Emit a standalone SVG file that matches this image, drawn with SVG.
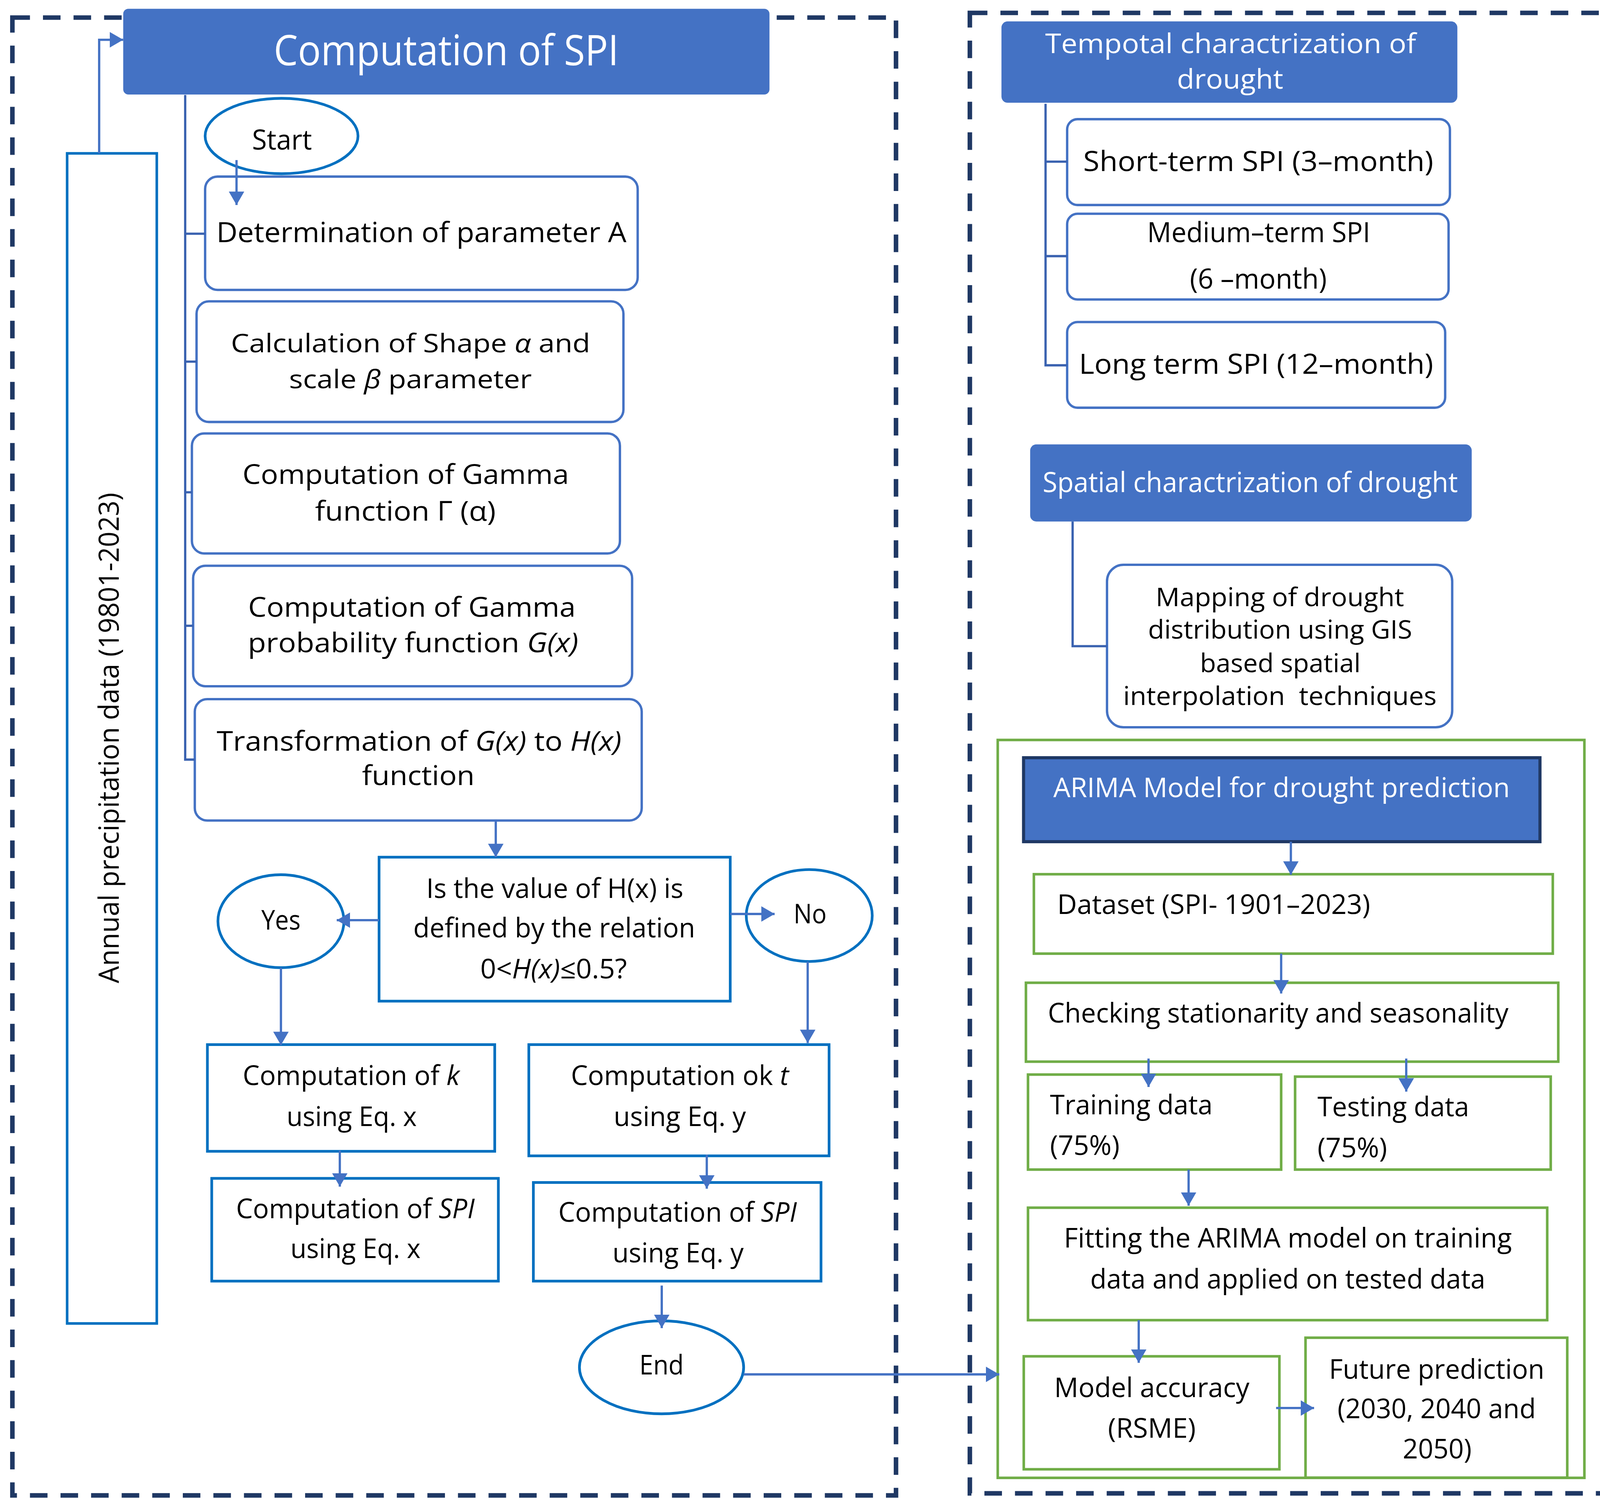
<svg xmlns="http://www.w3.org/2000/svg" width="4146" height="3866" viewBox="0 0 4146 3866">
<defs>
<style>
.t{font-family:"Open Sans","Noto Sans","DejaVu Sans",sans-serif;fill:#000;text-anchor:middle}
.s{text-anchor:start}
.w{fill:#fff}
.f25{font-size:25px}
.f26{font-size:26px}
.f27{font-size:27px}
.rb{fill:#fff;stroke:#4472C4;stroke-width:2.3}
.bb{fill:#fff;stroke:#0070C0;stroke-width:2.6}
.gb{fill:#fff;stroke:#70AD47;stroke-width:2.5}
.hd{fill:#4472C4}
.dash{fill:none;stroke:#1F3864;stroke-width:4.4;stroke-dasharray:17 12.6}
.c{fill:none;stroke:#4472C4;stroke-width:2.2}
.br{fill:none;stroke:#3A62B0;stroke-width:2.2}
</style>
<marker id="ah" markerUnits="userSpaceOnUse" markerWidth="14" markerHeight="15" refX="13" refY="7.5" orient="auto">
<path d="M0,0 L13,7.5 L0,15 Z" fill="#4472C4"/>
</marker>
</defs>
<rect width="4146" height="3866" fill="#fff"/>
<g transform="scale(2.6441)">
<g id="frames">
<rect class="dash" x="12" y="17" width="855.5" height="1431"/>
<rect class="dash" x="939" y="12.5" width="616" height="1433.5"/>
</g>

<g id="annual-data">
<rect x="65" y="148.5" width="86.8" height="1133" fill="#fff" stroke="#0070C0" stroke-width="2.5"/>
<text class="t f27" transform="translate(115,714.5) rotate(-90)" textLength="475" lengthAdjust="spacingAndGlyphs">Annual precipitation data (19801-2023)</text>
</g>

<g id="spi-header">
<rect class="hd" x="119.3" y="8.5" width="625.7" height="83" rx="5"/>
<text class="t w" x="432" y="63" font-size="41" textLength="334" lengthAdjust="spacingAndGlyphs">Computation of SPI</text>
</g>

<g id="start">
<ellipse cx="272.6" cy="131.7" rx="74" ry="36.5" fill="#fff" stroke="#0070C0" stroke-width="2.6"/>
<text class="t f27" x="273" y="145" textLength="58" lengthAdjust="spacingAndGlyphs">Start</text>
</g>

<g id="param-a">
<rect class="rb" x="198.6" y="171" width="418.8" height="109.7" rx="12"/>
<text class="t f27" x="408" y="234.5" textLength="397" lengthAdjust="spacingAndGlyphs">Determination of parameter A</text>
</g>

<g id="shape-scale">
<rect class="rb" x="190.3" y="291.8" width="413.3" height="116.8" rx="12"/>
<text class="t f25" x="397.5" y="341" textLength="348" lengthAdjust="spacingAndGlyphs">Calculation of Shape <tspan font-style="italic">α</tspan> and</text>
<text class="t f25" x="397.4" y="376" textLength="235" lengthAdjust="spacingAndGlyphs">scale <tspan font-style="italic">β</tspan> parameter</text>
</g>

<g id="gamma-function">
<rect class="rb" x="185.8" y="419.7" width="414.4" height="116.2" rx="12"/>
<text class="t f26" x="392.8" y="468.5" textLength="316" lengthAdjust="spacingAndGlyphs">Computation of Gamma</text>
<text class="t f26" x="392.5" y="504" textLength="175" lengthAdjust="spacingAndGlyphs">function Γ (α)</text>
</g>

<g id="gamma-probability">
<rect class="rb" x="187" y="547.8" width="425" height="116.7" rx="12"/>
<text class="t f26" x="398.8" y="597" textLength="317" lengthAdjust="spacingAndGlyphs">Computation of Gamma</text>
<text class="t f26" x="400" y="631.6" textLength="320" lengthAdjust="spacingAndGlyphs">probability function <tspan font-style="italic">G(x)</tspan></text>
</g>

<g id="transformation">
<rect class="rb" x="188.6" y="677" width="432.7" height="117.5" rx="12"/>
<text class="t f26" x="405.8" y="727" textLength="392" lengthAdjust="spacingAndGlyphs">Transformation of <tspan font-style="italic">G(x)</tspan> to <tspan font-style="italic">H(x)</tspan></text>
<text class="t f26" x="405" y="760.3" textLength="109" lengthAdjust="spacingAndGlyphs">function</text>
</g>

<g id="decision">
<rect class="bb" x="367" y="830" width="340" height="139.4"/>
<text class="t f26" x="537.2" y="869.5" textLength="249" lengthAdjust="spacingAndGlyphs">Is the value of H(x) is</text>
<text class="t f26" x="536.6" y="907.5" textLength="273" lengthAdjust="spacingAndGlyphs">defined by the relation</text>
<text class="t f26" x="536" y="947.5" textLength="142" lengthAdjust="spacingAndGlyphs">0&lt;<tspan font-style="italic">H(x)</tspan>≤0.5?</text>
</g>

<g id="yes">
<ellipse cx="272" cy="892" rx="61" ry="45" fill="#fff" stroke="#0070C0" stroke-width="2.6"/>
<text class="t f26" x="272" y="900" textLength="38" lengthAdjust="spacingAndGlyphs">Yes</text>
</g>

<g id="no">
<ellipse cx="783.5" cy="886.5" rx="61" ry="44.5" fill="#fff" stroke="#0070C0" stroke-width="2.6"/>
<text class="t f26" x="784.3" y="894" textLength="32" lengthAdjust="spacingAndGlyphs">No</text>
</g>

<g id="compute-k">
<rect class="bb" x="200.8" y="1011.5" width="278.2" height="103.3"/>
<text class="t f26" x="340" y="1050.7" textLength="210" lengthAdjust="spacingAndGlyphs">Computation of <tspan font-style="italic">k</tspan></text>
<text class="t f26" x="340.5" y="1090.3" textLength="126" lengthAdjust="spacingAndGlyphs">using Eq. x</text>
</g>

<g id="compute-t">
<rect class="bb" x="512" y="1011.5" width="290.7" height="107.7"/>
<text class="t f26" x="658.2" y="1050.6" textLength="211" lengthAdjust="spacingAndGlyphs">Computation ok <tspan font-style="italic">t</tspan></text>
<text class="t f26" x="658.2" y="1090.3" textLength="128" lengthAdjust="spacingAndGlyphs">using Eq. y</text>
</g>

<g id="spi-x">
<rect class="bb" x="205" y="1141" width="277.5" height="99.5"/>
<text class="t f26" x="344" y="1179.7" textLength="231" lengthAdjust="spacingAndGlyphs">Computation of <tspan font-style="italic">SPI</tspan></text>
<text class="t f26" x="344.2" y="1218" textLength="126" lengthAdjust="spacingAndGlyphs">using Eq. x</text>
</g>

<g id="spi-y">
<rect class="bb" x="516.4" y="1145" width="278.5" height="95.5"/>
<text class="t f26" x="656" y="1183" textLength="231" lengthAdjust="spacingAndGlyphs">Computation of <tspan font-style="italic">SPI</tspan></text>
<text class="t f26" x="656.5" y="1222.3" textLength="127" lengthAdjust="spacingAndGlyphs">using Eq. y</text>
</g>

<g id="end">
<ellipse cx="640.5" cy="1324" rx="79.5" ry="45" fill="#fff" stroke="#0070C0" stroke-width="2.6"/>
<text class="t f26" x="640.5" y="1331" textLength="43" lengthAdjust="spacingAndGlyphs">End</text>
</g>

<g id="temporal-header">
<rect class="hd" x="969.6" y="20.7" width="441.4" height="78.8" rx="6"/>
<text class="t w f26" x="1191.5" y="51.5" textLength="359" lengthAdjust="spacingAndGlyphs">Tempotal charactrization of</text>
<text class="t w f26" x="1191" y="86" textLength="103" lengthAdjust="spacingAndGlyphs">drought</text>
</g>

<g id="short-term">
<rect class="rb" x="1033.2" y="115.4" width="370.6" height="83.1" rx="10"/>
<text class="t f27" x="1218.3" y="165.5" textLength="339" lengthAdjust="spacingAndGlyphs">Short-term SPI (3–month)</text>
</g>

<g id="medium-term">
<rect class="rb" x="1033.2" y="207" width="369.3" height="83" rx="10"/>
<text class="t f27" x="1218.7" y="234.5" textLength="216" lengthAdjust="spacingAndGlyphs">Medium–term SPI</text>
<text class="t f27" x="1218.3" y="279.6" textLength="132.6" lengthAdjust="spacingAndGlyphs">(6 –month)</text>
</g>

<g id="long-term">
<rect class="rb" x="1033.2" y="311.8" width="366" height="83" rx="10"/>
<text class="t f27" x="1216.2" y="362" textLength="343" lengthAdjust="spacingAndGlyphs">Long term SPI (12–month)</text>
</g>

<g id="spatial-header">
<rect class="hd" x="997.4" y="430.3" width="427.5" height="74.7" rx="6"/>
<text class="t w f27" x="1210.5" y="476.6" textLength="402" lengthAdjust="spacingAndGlyphs">Spatial charactrization of drought</text>
</g>

<g id="mapping">
<rect class="rb" x="1071.8" y="546.9" width="334.2" height="157.3" rx="16"/>
<text class="t f25" x="1239.2" y="587" textLength="240.5" lengthAdjust="spacingAndGlyphs">Mapping of drought</text>
<text class="t f25" x="1239.4" y="618.5" textLength="255.7" lengthAdjust="spacingAndGlyphs">distribution using GIS</text>
<text class="t f25" x="1239.6" y="651" textLength="155.5" lengthAdjust="spacingAndGlyphs">based spatial</text>
<text class="t f25" x="1239.2" y="682.5" textLength="303.5" lengthAdjust="spacingAndGlyphs" xml:space="preserve" style="white-space:pre">interpolation  techniques</text>
</g>

<g id="arima-panel">
<rect class="gb" x="966" y="716.5" width="568" height="714.5"/>
</g>

<g id="arima-header">
<rect x="991" y="733.7" width="500" height="81.3" fill="#4472C4" stroke="#1F3864" stroke-width="3"/>
<text class="t w f26" x="1240.8" y="772" textLength="442" lengthAdjust="spacingAndGlyphs">ARIMA Model for drought prediction</text>
</g>

<g id="dataset">
<rect class="gb" x="1001" y="846.5" width="502.4" height="76.9"/>
<text class="t s f26" x="1023.6" y="885" textLength="303" lengthAdjust="spacingAndGlyphs">Dataset (SPI- 1901–2023)</text>
</g>

<g id="checking">
<rect class="gb" x="993.3" y="951.6" width="515.4" height="76.4"/>
<text class="t s f26" x="1014.5" y="990" textLength="446" lengthAdjust="spacingAndGlyphs">Checking stationarity and seasonality</text>
</g>

<g id="training">
<rect class="gb" x="995.3" y="1040.5" width="245.1" height="92"/>
<text class="t s f26" x="1016.6" y="1079" textLength="157.4" lengthAdjust="spacingAndGlyphs">Training data</text>
<text class="t s f26" x="1016.6" y="1118.5" textLength="67.4" lengthAdjust="spacingAndGlyphs">(75%)</text>
</g>

<g id="testing">
<rect class="gb" x="1253.9" y="1042.5" width="247.5" height="90"/>
<text class="t s f26" x="1275.6" y="1081" textLength="146.8" lengthAdjust="spacingAndGlyphs">Testing data</text>
<text class="t s f26" x="1275.6" y="1120.5" textLength="67.4" lengthAdjust="spacingAndGlyphs">(75%)</text>
</g>

<g id="fitting">
<rect class="gb" x="995.3" y="1169.4" width="502.7" height="108.9"/>
<text class="t f26" x="1246.9" y="1208" textLength="433.7" lengthAdjust="spacingAndGlyphs">Fitting the ARIMA model on training</text>
<text class="t f26" x="1246.8" y="1247.5" textLength="382.5" lengthAdjust="spacingAndGlyphs">data and applied on tested data</text>
</g>

<g id="model-accuracy">
<rect class="gb" x="991.2" y="1313.3" width="247.5" height="109.4"/>
<text class="t f26" x="1115.2" y="1353" textLength="189" lengthAdjust="spacingAndGlyphs">Model accuracy</text>
<text class="t f26" x="1115.2" y="1392" textLength="85" lengthAdjust="spacingAndGlyphs">(RSME)</text>
</g>

<g id="future">
<rect class="gb" x="1264" y="1295.3" width="253.4" height="135.5"/>
<text class="t f26" x="1391" y="1335" textLength="208.6" lengthAdjust="spacingAndGlyphs">Future prediction</text>
<text class="t f26" x="1391" y="1373.4" textLength="192" lengthAdjust="spacingAndGlyphs">(2030, 2040 and</text>
<text class="t f26" x="1391.5" y="1412.3" textLength="66.7" lengthAdjust="spacingAndGlyphs">2050)</text>
</g>

<g id="connectors">
<path class="c" d="M96,148.5 V38.5 H119.3" marker-end="url(#ah)"/>
<path class="br" d="M179.3,92 V735.5 H188.6 M179.3,226.3 H198.6 M179.3,350.2 H190.3 M179.3,476.7 H185.8 M179.3,605.9 H187"/>
<path class="c" d="M229,155 V198.5" marker-end="url(#ah)"/>
<path class="c" d="M480,794.5 V830" marker-end="url(#ah)"/>
<path class="c" d="M367,891 H326" marker-end="url(#ah)"/>
<path class="c" d="M707,885 H750" marker-end="url(#ah)"/>
<path class="c" d="M272,937 V1012" marker-end="url(#ah)"/>
<path class="c" d="M782,931 V1010" marker-end="url(#ah)"/>
<path class="c" d="M329,1114 V1149" marker-end="url(#ah)"/>
<path class="c" d="M684.3,1118 V1151" marker-end="url(#ah)"/>
<path class="c" d="M640.7,1244.8 V1286" marker-end="url(#ah)"/>
<path class="c" d="M720,1330.8 H967.5" stroke-width="3" marker-end="url(#ah)"/>
<path class="br" d="M1012.3,100.5 V353.7 H1033.2 M1012.3,156.5 H1033.2 M1012.3,248 H1033.2"/>
<path class="br" d="M1038.5,505 V625.7 H1071.8"/>
<path class="c" d="M1249.8,815 V847" marker-end="url(#ah)"/>
<path class="c" d="M1240.4,923.4 V962" marker-end="url(#ah)"/>
<path class="c" d="M1112,1025 V1052.5" marker-end="url(#ah)"/>
<path class="c" d="M1361.5,1025 V1057" marker-end="url(#ah)"/>
<path class="c" d="M1150.8,1132.5 V1167.5" marker-end="url(#ah)"/>
<path class="c" d="M1102.5,1278.3 V1319.6" marker-end="url(#ah)"/>
<path class="c" d="M1235.5,1363.4 H1272.3" marker-end="url(#ah)"/>
</g>
</g>
</svg>
